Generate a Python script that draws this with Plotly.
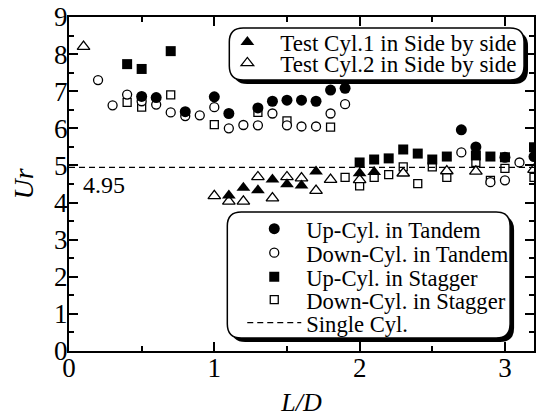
import plotly.graph_objects as go

# ---- data ----
x_t1 = [1.1, 1.2, 1.3, 1.4, 1.5, 1.6, 1.7, 2.0, 2.1]
y_t1 = [4.19, 4.40, 4.33, 4.62, 4.49, 4.46, 4.84, 4.79, 4.82]

x_t2 = [0.1, 1.0, 1.1, 1.2, 1.3, 1.4, 1.5, 1.6, 1.7, 1.8, 2.0, 2.3, 2.6, 2.8, 3.2]
y_t2 = [8.2, 4.18, 4.03, 4.03, 4.69, 4.12, 4.69, 4.66, 4.32, 4.62, 4.61, 4.79, 4.85, 4.84, 4.89]

x_ut = [0.5, 0.6, 0.8, 1.0, 1.1, 1.3, 1.4, 1.5, 1.6, 1.7, 1.8, 1.9, 2.7, 2.8, 3.0, 3.2]
y_ut = [6.86, 6.83, 6.45, 6.85, 6.40, 6.55, 6.73, 6.76, 6.76, 6.73, 7.03, 7.08, 5.96, 5.50, 5.22, 5.24]

x_dt = [0.2, 0.3, 0.4, 0.5, 0.6, 0.7, 0.8, 0.9, 1.0, 1.1, 1.2, 1.3, 1.4, 1.5, 1.6, 1.7, 1.8, 1.9,
        2.7, 2.9, 3.0, 3.1]
y_dt = [7.30, 6.62, 6.91, 6.73, 6.64, 6.43, 6.33, 6.35, 6.57, 6.00, 6.09, 6.08, 6.40, 6.08, 6.05,
        6.05, 6.40, 6.65, 5.35, 4.55, 4.60, 5.08]

x_us = [0.4, 0.5, 0.7, 2.0, 2.1, 2.2, 2.3, 2.4, 2.5, 2.6, 2.8, 2.9, 3.0, 3.2]
y_us = [7.73, 7.60, 8.08, 5.08, 5.16, 5.19, 5.43, 5.32, 5.16, 5.24, 5.27, 5.24, 5.22, 5.49]

x_ds = [0.4, 0.5, 0.7, 1.0, 1.3, 1.5, 1.8, 1.9, 2.0, 2.1, 2.2, 2.3, 2.4, 2.5, 2.6, 2.8, 2.9, 3.0, 3.2]
y_ds = [6.70, 6.57, 6.90, 6.10, 6.43, 6.20, 6.03, 4.68, 4.45, 4.68, 4.75, 4.96, 4.51, 4.96, 4.68,
        5.08, 4.60, 4.92, 4.68]

single_ur = 4.95
x_range = [0, 3.2]
y_range = [0, 9]

FONT = "Times New Roman, Liberation Serif, Times, serif"
W, H = 536, 418
ML, MR, MT, MB = 69, 0, 17, 67
PW, PH = W - ML - MR, H - MT - MB


def px2paper(px, py):
    return (px - ML) / PW, (H - MB - py) / PH


fig = go.Figure()


def add(x, y, name, symbol, size, legend, filled=True):
    fig.add_trace(go.Scatter(
        x=x, y=y, mode="markers", name=name, legend=legend,
        marker=dict(symbol=symbol, size=size,
                    color="black" if filled else "white",
                    line=dict(color="black", width=0 if filled else 1.3)),
    ))


add(x_ds, y_ds, "Down-Cyl. in Stagger", "square", 8, "legend6", filled=False)
add(x_dt, y_dt, "Down-Cyl. in Tandem", "circle", 9, "legend4", filled=False)
add(x_t2, y_t2, "Test Cyl.2 in Side by side", "triangle-up", 11, "legend2", filled=False)
add(x_us, y_us, "Up-Cyl. in Stagger", "square", 10, "legend5")
add(x_ut, y_ut, "Up-Cyl. in Tandem", "circle", 11, "legend3")
add(x_t1, y_t1, "Test Cyl.1 in Side by side", "triangle-up", 12, "legend")

fig.add_trace(go.Scatter(
    x=x_range, y=[single_ur, single_ur], mode="lines", name="Single Cyl.",
    legend="legend7", line=dict(color="black", width=1.3, dash="6px,4px"),
))


def rounded_path(x0, y0, x1, y1, r):
    rx, ry = r / PW, r / PH
    a0, b1 = px2paper(x0, y0)
    a1, b0 = px2paper(x1, y1)
    return (f"M {a0+rx},{b1} L {a1-rx},{b1} Q {a1},{b1} {a1},{b1-ry} "
            f"L {a1},{b0+ry} Q {a1},{b0} {a1-rx},{b0} L {a0+rx},{b0} "
            f"Q {a0},{b0} {a0},{b0+ry} L {a0},{b1-ry} Q {a0},{b1} {a0+rx},{b1} Z")


shapes = []
for (x0, y0, x1, y1) in [(230, 28, 526, 80), (228, 212, 512, 338)]:
    shapes.append(dict(type="path", xref="paper", yref="paper",
                       path=rounded_path(x0 + 4, y0 + 4, x1 + 4, y1 + 4, 14),
                       fillcolor="black", line=dict(width=0), layer="above"))
    shapes.append(dict(type="path", xref="paper", yref="paper",
                       path=rounded_path(x0, y0, x1, y1, 14),
                       fillcolor="white", line=dict(color="black", width=1.5), layer="above"))

axis_common = dict(
    showline=True, linecolor="black", linewidth=2, mirror="ticks",
    ticks="inside", ticklen=9, tickwidth=1.5, tickcolor="black",
    showgrid=False, zeroline=False,
    tickfont=dict(family=FONT, size=27, color="black"),
)


def leg(left_px, yc_px, itemwidth, size):
    return dict(x=px2paper(left_px, 0)[0], y=px2paper(0, yc_px)[1],
                xanchor="left", yanchor="middle",
                bgcolor="rgba(0,0,0,0)", borderwidth=0,
                font=dict(family=FONT, size=size, color="black"),
                itemsizing="trace", itemwidth=itemwidth)


fig.update_layout(
    width=W, height=H,
    margin=dict(l=ML, r=MR, t=MT, b=MB),
    paper_bgcolor="white", plot_bgcolor="white",
    font=dict(family=FONT, color="black"),
    showlegend=True,
    shapes=shapes,
    xaxis=dict(range=x_range, dtick=1, tick0=0,
               ticklabelstandoff=-8,
               minor=dict(dtick=0.5, ticklen=5, tickwidth=1.5, tickcolor="black", ticks="inside"),
               title=dict(text="<i>L/D</i>", font=dict(family=FONT, size=26, color="black"), standoff=10),
               **axis_common),
    yaxis=dict(range=y_range, dtick=1, tick0=0,
               ticklabelstandoff=-6,
               minor=dict(dtick=0.5, ticklen=5, tickwidth=1.5, tickcolor="black", ticks="inside"),
               title=dict(text="<i>Ur</i>", font=dict(family=FONT, size=28, color="black"), standoff=12),
               **axis_common),
    legend=leg(215, 42, 56, 23),
    legend2=leg(215, 63, 56, 23),
    legend3=leg(243, 229, 54, 22.6),
    legend4=leg(243, 253, 54, 22.6),
    legend5=leg(243, 277, 54, 22.6),
    legend6=leg(243, 300, 54, 22.6),
    legend7=leg(243, 323, 54, 22.6),
    annotations=[dict(x=0.08, y=4.46, xref="x", yref="y", text="4.95", showarrow=False,
                      xanchor="left", yanchor="middle",
                      font=dict(family=FONT, size=24, color="black"))],
)

fig.write_html("out.html")
